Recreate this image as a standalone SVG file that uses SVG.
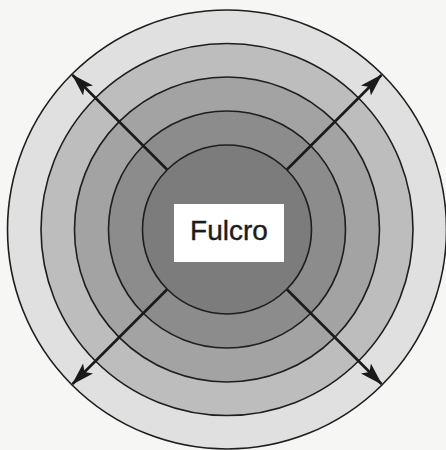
<svg xmlns="http://www.w3.org/2000/svg" width="446" height="450" viewBox="0 0 446 450">
  <style>
    .ring { stroke: #1e1e1e; stroke-width: 1.6; }
    .arrow { stroke: #1a1a1a; stroke-width: 2.6; fill: none; marker-end: url(#head); }
    .label { font-family: "Liberation Sans", Arial, sans-serif; font-size: 28px; fill: #1c1c1c; stroke: #1c1c1c; stroke-width: 0.4; text-anchor: middle; }
  </style>
  <defs>
    <marker id="head" markerUnits="userSpaceOnUse" markerWidth="24" markerHeight="18" viewBox="0 0 24 18" refX="22" refY="9" orient="auto">
      <path d="M0,2 L23,9 L0,16 L5,9 Z" fill="#1a1a1a"/>
    </marker>
  </defs>

  <rect width="446" height="450" fill="#f6f6f5"/>

  <!-- concentric zones, outermost first -->
  <g id="zones">
    <circle id="zone-5" class="ring" cx="227" cy="229.5" r="219.5" fill="#e0e0e0"/>
    <circle id="zone-4" class="ring" cx="227" cy="229.5" r="186" fill="#bdbdbd"/>
    <circle id="zone-3" class="ring" cx="227" cy="229.5" r="152.5" fill="#a3a3a3"/>
    <circle id="zone-2" class="ring" cx="227" cy="229.5" r="118.5" fill="#8c8c8c"/>
    <circle id="zone-1" class="ring" cx="227" cy="229.5" r="84.5" fill="#7c7c7c"/>
  </g>

  <!-- outward arrows on the diagonals -->
  <g id="connectors">
    <line class="arrow" x1="167" y1="169.5" x2="72.5" y2="75"/>
    <line class="arrow" x1="287" y1="169.5" x2="381.5" y2="75"/>
    <line class="arrow" x1="167" y1="289.5" x2="72.5" y2="384"/>
    <line class="arrow" x1="287" y1="289.5" x2="381.5" y2="384"/>
  </g>

  <g id="fulcro">
    <rect x="174" y="204" width="110" height="58" fill="#ffffff"/>
    <text class="label" x="229" y="240">Fulcro</text>
  </g>
</svg>
